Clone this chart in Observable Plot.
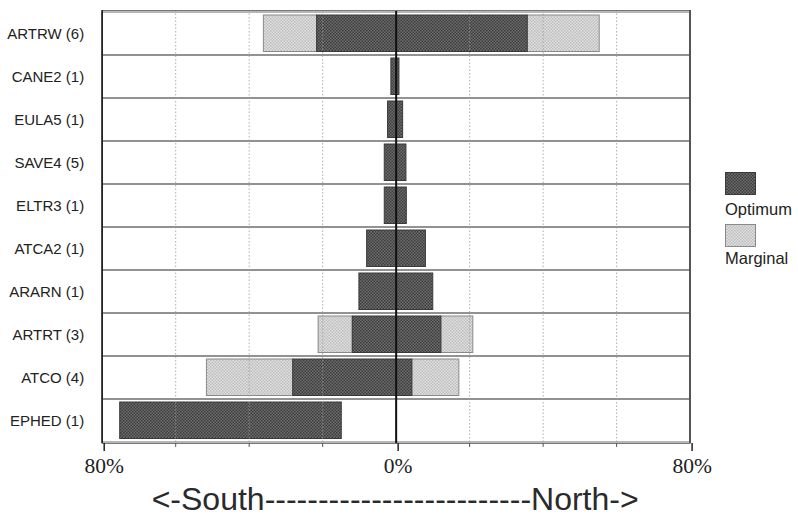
<!DOCTYPE html>
<html>
<head>
<meta charset="utf-8">
<script src="https://cdn.jsdelivr.net/npm/d3@7"></script>
<script src="https://cdn.jsdelivr.net/npm/@observablehq/plot@0.6"></script>
<style>
  html, body { margin: 0; padding: 0; background: #fff; }
  #wrap { position: relative; width: 798px; height: 518px; overflow: hidden; }
  .legend { position: absolute; left: 725px; font-family: Arial, "Liberation Sans", sans-serif; font-size: 16.5px; color: #222; }
  .sw { position: absolute; left: 725px; width: 31px; height: 23px; box-sizing: border-box; }
</style>
</head>
<body>
<div id="wrap"></div>
<script>
// ---- data (percent; negative = South, positive = North) ----
const categories = ["ARTRW (6)", "CANE2 (1)", "EULA5 (1)", "SAVE4 (5)", "ELTR3 (1)", "ATCA2 (1)", "ARARN (1)", "ARTRT (3)", "ATCO (4)", "EPHED (1)"];
const optimumLow  = [-21.5, -1.3, -2.2, -3.1, -3.1, -7.9, -10.0, -11.8, -28.0, -75.1];
const optimumHigh = [ 35.8,  0.9,  1.9,  2.8,  2.9,  8.1,  10.1,  12.3,   4.4, -14.8];
const marginalLow  = [-36.0, null, null, null, null, null, null, -21.1, -51.5, null];
const marginalHigh = [ 55.4, null, null, null, null, null, null,  21.0,  17.2, null];
const majorTicks = [-80, 0, 80];
const minorTicks = [-60, -40, -20, 20, 40, 60];
const axisTitle = ["<-South-------------------------North->"];
const seriesNames = ["Optimum", "Marginal"];

const optimum = categories.map((c, i) => ({cat: c, x1: optimumLow[i], x2: optimumHigh[i]}));
const marginal = [];
categories.forEach((c, i) => {
  if (marginalLow[i] != null) {
    marginal.push({cat: c, x1: marginalLow[i], x2: optimumLow[i]});
    marginal.push({cat: c, x1: optimumHigh[i], x2: marginalHigh[i]});
  }
});

const sans = "Arial, 'Liberation Sans', sans-serif";
const serif = "'Liberation Serif', 'DejaVu Serif', 'Times New Roman', 'Noto Serif', serif";

const chart = Plot.plot({
  width: 798,
  height: 518,
  marginLeft: 101.7,
  marginRight: 108.4,
  marginTop: 10,
  marginBottom: 75,
  style: {background: "#fff", color: "#222"},
  x: {domain: [-80, 80], label: null},
  y: {domain: categories, padding: 0, label: null},
  marks: [
    Plot.barX(categories, {y: d => d, x1: -80, x2: 80, fill: "none", stroke: "#6e6e6e", strokeWidth: 1}),
    Plot.barX(marginal, {y: "cat", x1: "x1", x2: "x2", fill: "url(#margPat)", stroke: "#8a8a8a", strokeWidth: 1, insetTop: 3, insetBottom: 3.5}),
    Plot.barX(optimum, {y: "cat", x1: "x1", x2: "x2", fill: "url(#optPat)", stroke: "#3a3a3a", strokeWidth: 1, insetTop: 3, insetBottom: 3.5}),
    Plot.ruleX(minorTicks, {stroke: "#9a9a9a", strokeDasharray: "1.5,2", strokeWidth: 1, strokeOpacity: 0.8}),
    Plot.ruleX([0], {stroke: "#111", strokeWidth: 2}),
    Plot.frame({stroke: "#777", strokeWidth: 1}),
    Plot.ruleX([-80], {stroke: "#222", strokeWidth: 1.6}),
    Plot.ruleX([80], {stroke: "#333", strokeWidth: 1.2}),
    Plot.axisX({ticks: majorTicks, tickSize: 8, tickPadding: 6, tickFormat: d => Math.abs(d) + "%", fontSize: 21.5, stroke: "#222", strokeWidth: 1.5, dx: 2, label: null}),
    Plot.axisX({ticks: minorTicks, tickSize: 4, tickFormat: () => "", stroke: "#555", label: null}),
    Plot.axisY({tickSize: 0, tickPadding: 18, fontSize: 15, label: null}),
    Plot.text(axisTitle, {text: d => d, frameAnchor: "bottom", dy: 66, dx: -1, fontSize: 32, fill: "#2a2a2a"})
  ]
});

// font styling applied inline
chart.querySelectorAll("text").forEach(t => {
  const s = t.textContent.trim();
  if (s.indexOf("%") >= 0) {
    t.style.setProperty("font-family", serif, "important");
    t.style.setProperty("font-size", "21.5px", "important");
  } else {
    t.style.fontFamily = sans;
  }
});

// halftone-like patterns
const ns = "http://www.w3.org/2000/svg";
const defs = document.createElementNS(ns, "defs");
function addPattern(id, c1, c2) {
  const p = document.createElementNS(ns, "pattern");
  p.setAttribute("id", id);
  p.setAttribute("patternUnits", "userSpaceOnUse");
  p.setAttribute("width", "3");
  p.setAttribute("height", "3");
  const r0 = document.createElementNS(ns, "rect");
  r0.setAttribute("width", "3"); r0.setAttribute("height", "3"); r0.setAttribute("fill", c1);
  p.appendChild(r0);
  [[0,0],[1.5,1.5]].forEach(([x, y]) => {
    const r = document.createElementNS(ns, "rect");
    r.setAttribute("x", x); r.setAttribute("y", y);
    r.setAttribute("width", "1.5"); r.setAttribute("height", "1.5"); r.setAttribute("fill", c2);
    p.appendChild(r);
  });
  defs.appendChild(p);
}
addPattern("optPat", "#6e6e6e", "#3c3c3c");
addPattern("margPat", "#e2e2e2", "#bcbcbc");
chart.insertBefore(defs, chart.firstChild);

const wrap = document.getElementById("wrap");
wrap.appendChild(chart);

// legend
const legendItems = [
  {name: seriesNames[0], fill: "url(#optPat)", border: "#3a3a3a", swTop: 172, textTop: 200},
  {name: seriesNames[1], fill: "url(#margPat)", border: "#8a8a8a", swTop: 224, textTop: 249}
];
legendItems.forEach(it => {
  const s = document.createElementNS(ns, "svg");
  s.setAttribute("class", "sw");
  s.setAttribute("width", "31"); s.setAttribute("height", "23");
  s.style.top = it.swTop + "px";
  const r = document.createElementNS(ns, "rect");
  r.setAttribute("x", "0.5"); r.setAttribute("y", "0.5");
  r.setAttribute("width", "30"); r.setAttribute("height", "22");
  r.setAttribute("fill", it.fill); r.setAttribute("stroke", it.border);
  s.appendChild(r);
  wrap.appendChild(s);
  const t = document.createElement("div");
  t.className = "legend";
  t.style.top = it.textTop + "px";
  t.textContent = it.name;
  wrap.appendChild(t);
});
</script>
</body>
</html>
